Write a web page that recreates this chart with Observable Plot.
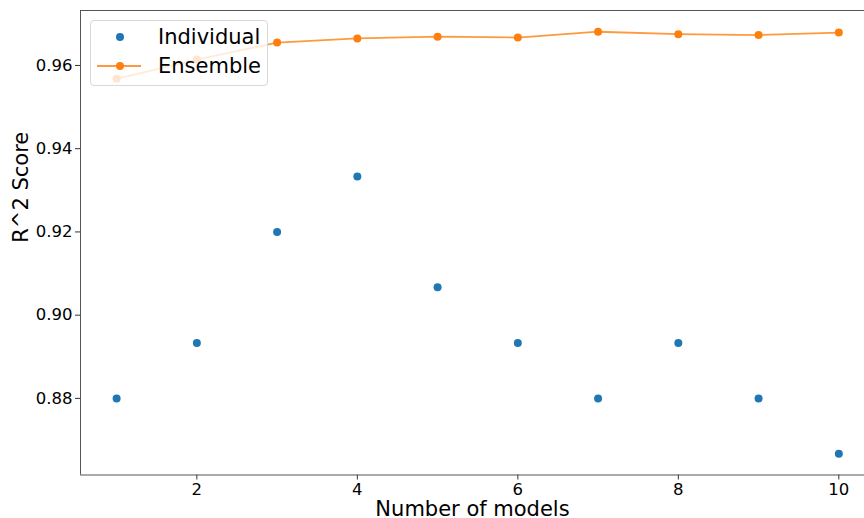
<!DOCTYPE html>
<html>
<head>
<meta charset="utf-8">
<script src="https://cdn.jsdelivr.net/npm/d3@7"></script>
<script src="https://cdn.jsdelivr.net/npm/@observablehq/plot@0.6"></script>
<style>
  html, body { margin: 0; padding: 0; background: #fff; }
  #wrap { position: relative; width: 864px; height: 518px; font-family: "DejaVu Sans", sans-serif; }
  #legend {
    position: absolute; left: 90px; top: 20px; width: 176px; height: 64px;
    background: rgba(255,255,255,0.8); border: 1px solid #d8d8d8; border-radius: 4px;
    font-size: 21px; color: #000;
  }
  #legend .row { position: absolute; left: 0; height: 30px; display: flex; align-items: center; }
  #legend svg { width: 60px; height: 30px; }
  #legend span { margin-left: 7px; }
</style>
</head>
<body>
<div id="wrap">
  <div id="chart"></div>
  <div id="legend">
    <div class="row" style="top:1px">
      <svg><circle cx="29" cy="15" r="4" fill="#1f77b4"/></svg><span>Individual</span>
    </div>
    <div class="row" style="top:30px">
      <svg><line x1="6" x2="50" y1="15" y2="15" stroke="#ff7f0e" stroke-width="1.8" stroke-opacity="0.8"/><circle cx="29" cy="15" r="4" fill="#ff7f0e"/></svg><span>Ensemble</span>
    </div>
  </div>
</div>
<script>
const models = [1, 2, 3, 4, 5, 6, 7, 8, 9, 10];
const individual = [0.8800, 0.8933, 0.9200, 0.9333, 0.9067, 0.8933, 0.8800, 0.8933, 0.8800, 0.8667];
const ensemble = [0.9568, 0.9614, 0.9655, 0.9665, 0.9669, 0.9667, 0.9681, 0.9675, 0.9673, 0.9679];
const xTicks = [2, 4, 6, 8, 10];
const yTicks = [0.88, 0.90, 0.92, 0.94, 0.96];

const indData = models.map((m, i) => ({m, v: individual[i]}));
const ensData = models.map((m, i) => ({m, v: ensemble[i]}));

const xDomain = [0.55, 10.32];
const yDomain = [0.8616, 0.9732];

const chart = Plot.plot({
  width: 864,
  height: 518,
  marginLeft: 80,
  marginRight: 0,
  marginTop: 10,
  marginBottom: 43.5,
  style: {fontFamily: "DejaVu Sans, sans-serif", fontSize: "16.5px", color: "#000", background: "#fff"},
  x: {domain: xDomain, label: null},
  y: {domain: yDomain, label: null},
  marks: [
    Plot.axisX({ticks: xTicks, tickSize: 5, tickPadding: 3, tickFormat: d => String(d), label: null, fontSize: 16.5, stroke: "#333"}),
    Plot.axisY({ticks: yTicks, tickSize: 5, tickPadding: 3, tickFormat: d3.format(".2f"), label: null, fontSize: 16.5, stroke: "#333"}),
    Plot.ruleX([xDomain[0]], {stroke: "#555", strokeWidth: 1}),
    Plot.ruleY([yDomain[0], yDomain[1]], {stroke: "#555", strokeWidth: 1}),
    Plot.dot(indData, {x: "m", y: "v", r: 4, fill: "#1f77b4", stroke: null}),
    Plot.line(ensData, {x: "m", y: "v", stroke: "#ff7f0e", strokeWidth: 1.8, strokeOpacity: 0.8}),
    Plot.dot(ensData, {x: "m", y: "v", r: 4, fill: "#ff7f0e", stroke: null}),
    Plot.text(["Number of models"], {frameAnchor: "bottom", lineAnchor: "middle", dy: 34, fontSize: 21, fill: "#000"}),
    Plot.text(["R^2 Score"], {frameAnchor: "left", lineAnchor: "middle", dx: -59, rotate: -90, fontSize: 21, fill: "#000"})
  ]
});
document.getElementById("chart").appendChild(chart);
</script>
</body>
</html>
